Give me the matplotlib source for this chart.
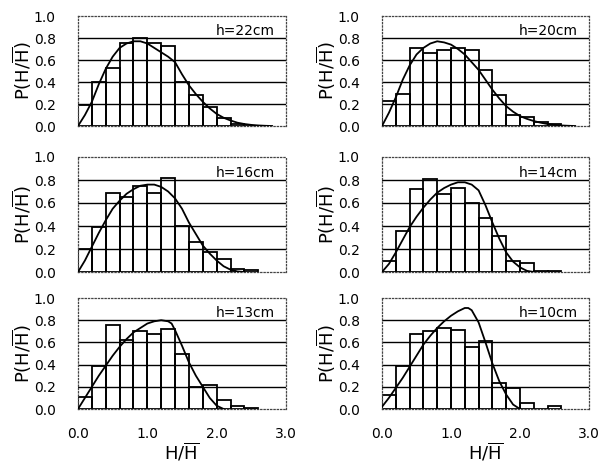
import matplotlib
matplotlib.use("Agg")
import matplotlib.pyplot as plt

# histogram bins (left edges, width 0.2)
bin_left = [0.0, 0.2, 0.4, 0.6, 0.8, 1.0, 1.2, 1.4, 1.6, 1.8, 2.0, 2.2, 2.4]
bin_width = 0.2

labels = ["h=22cm", "h=20cm", "h=16cm", "h=14cm", "h=13cm", "h=10cm"]

bars22 = [0.19, 0.40, 0.53, 0.75, 0.80, 0.75, 0.73, 0.40, 0.28, 0.17, 0.07, 0.02, 0.0]
bars20 = [0.23, 0.29, 0.71, 0.66, 0.69, 0.71, 0.69, 0.51, 0.28, 0.10, 0.08, 0.04, 0.015]
bars16 = [0.20, 0.39, 0.69, 0.65, 0.75, 0.69, 0.82, 0.40, 0.26, 0.17, 0.11, 0.03, 0.015]
bars14 = [0.10, 0.36, 0.72, 0.81, 0.68, 0.73, 0.60, 0.47, 0.31, 0.10, 0.08, 0.01, 0.01]
bars13 = [0.11, 0.39, 0.76, 0.62, 0.70, 0.68, 0.72, 0.50, 0.20, 0.22, 0.085, 0.025, 0.01]
bars10 = [0.13, 0.39, 0.68, 0.70, 0.73, 0.71, 0.56, 0.61, 0.23, 0.19, 0.05, 0.0, 0.03]

# fitted curves
curve22_x = [0.0, 0.1, 0.2, 0.3, 0.4, 0.5, 0.6, 0.7, 0.8, 0.9, 1.0, 1.1, 1.2, 1.3, 1.4,
             1.5, 1.6, 1.7, 1.8, 1.9, 2.0, 2.1, 2.2, 2.3, 2.4, 2.5, 2.6, 2.7, 2.8]
curve22_y = [0.0, 0.10, 0.22, 0.38, 0.52, 0.63, 0.71, 0.75, 0.77, 0.77, 0.75, 0.71, 0.67, 0.63, 0.58,
             0.47, 0.37, 0.29, 0.22, 0.16, 0.11, 0.075, 0.05, 0.03, 0.018, 0.01, 0.005, 0.002, 0.0]

curve20_x = [0.0, 0.1, 0.2, 0.3, 0.4, 0.5, 0.6, 0.7, 0.8, 0.9, 1.0, 1.1, 1.2, 1.3, 1.4,
             1.5, 1.6, 1.7, 1.8, 1.9, 2.0, 2.1, 2.2, 2.3, 2.4, 2.5, 2.6, 2.7, 2.8]
curve20_y = [0.0, 0.12, 0.26, 0.42, 0.55, 0.65, 0.71, 0.75, 0.77, 0.76, 0.74, 0.70, 0.65, 0.58, 0.51,
             0.42, 0.33, 0.25, 0.18, 0.13, 0.09, 0.065, 0.045, 0.03, 0.018, 0.01, 0.005, 0.002, 0.0]

curve16_x = [0.0, 0.1, 0.2, 0.3, 0.4, 0.5, 0.6, 0.7, 0.8, 0.9, 1.0, 1.1, 1.2, 1.3, 1.4,
             1.5, 1.6, 1.7, 1.8, 1.9, 2.0, 2.1, 2.2, 2.3, 2.4]
curve16_y = [0.0, 0.10, 0.22, 0.34, 0.45, 0.55, 0.62, 0.68, 0.72, 0.75, 0.76, 0.76, 0.74, 0.70, 0.64,
             0.55, 0.43, 0.33, 0.23, 0.16, 0.10, 0.05, 0.02, 0.005, 0.0]

curve14_x = [0.0, 0.1, 0.2, 0.3, 0.4, 0.5, 0.6, 0.7, 0.8, 0.9, 1.0, 1.1, 1.2, 1.3, 1.4,
             1.5, 1.6, 1.7, 1.8, 1.9, 2.0, 2.1, 2.2]
curve14_y = [0.0, 0.07, 0.17, 0.28, 0.39, 0.48, 0.56, 0.63, 0.69, 0.73, 0.76, 0.78, 0.78, 0.76, 0.71,
             0.58, 0.43, 0.29, 0.17, 0.09, 0.04, 0.01, 0.0]

curve13_x = [0.0, 0.1, 0.2, 0.3, 0.4, 0.5, 0.6, 0.7, 0.8, 0.9, 1.0, 1.1, 1.2, 1.3, 1.35,
             1.4, 1.5, 1.6, 1.7, 1.8, 1.9, 2.0, 2.1]
curve13_y = [0.0, 0.10, 0.20, 0.30, 0.39, 0.48, 0.56, 0.63, 0.69, 0.73, 0.77, 0.79, 0.80, 0.79, 0.77,
             0.71, 0.57, 0.42, 0.30, 0.20, 0.10, 0.03, 0.0]

curve10_x = [0.0, 0.1, 0.2, 0.3, 0.4, 0.5, 0.6, 0.7, 0.8, 0.9, 1.0, 1.1, 1.2, 1.25, 1.3,
             1.4, 1.5, 1.6, 1.7, 1.8, 1.9, 2.0]
curve10_y = [0.02, 0.10, 0.19, 0.28, 0.38, 0.48, 0.58, 0.66, 0.73, 0.79, 0.84, 0.88, 0.91, 0.91, 0.89,
             0.78, 0.60, 0.41, 0.25, 0.13, 0.04, 0.0]

y_ticks = [0.0, 0.2, 0.4, 0.6, 0.8, 1.0]
x_ticks = [0.0, 1.0, 2.0, 3.0]

plt.rcParams["font.family"] = ["DejaVu Sans"]
plt.rcParams["mathtext.fontset"] = "dejavusans"

W, H = 604, 469
fig = plt.figure(figsize=(W / 100, H / 100), dpi=100)

col_px = [(78, 286), (382, 589)]
row_px = [(16, 126), (157, 272), (298, 409)]

panels = [
    (bars22, curve22_x, curve22_y),
    (bars20, curve20_x, curve20_y),
    (bars16, curve16_x, curve16_y),
    (bars14, curve14_x, curve14_y),
    (bars13, curve13_x, curve13_y),
    (bars10, curve10_x, curve10_y),
]

for i, (bars, cx, cy) in enumerate(panels):
    r, c = divmod(i, 2)
    x0, x1 = col_px[c]
    y0, y1 = row_px[r]
    ax = fig.add_axes([x0 / W, 1 - y1 / H, (x1 - x0) / W, (y1 - y0) / H])

    ax.set_xlim(0, 3.0)
    ax.set_ylim(0, 1.0)

    for yv in y_ticks[1:-1]:
        ax.axhline(yv, color="black", lw=1.0, zorder=1)

    ax.bar(bin_left, bars, width=bin_width, align="edge", fill=False,
           edgecolor="black", linewidth=1.3, zorder=2)
    ax.plot(cx, cy, color="black", lw=1.3, zorder=3)

    ax.text(2.84, 0.80, labels[i], ha="right", va="bottom", fontsize=10)

    for sp in ax.spines.values():
        sp.set_linestyle(":")
        sp.set_linewidth(0.9)
        sp.set_color("#444444")

    ax.set_yticks(y_ticks)
    ax.set_yticklabels([f"{v:.1f}" for v in y_ticks], fontsize=10)
    ax.set_xticks(x_ticks)
    ax.tick_params(axis="both", length=0)
    ax.tick_params(axis="y", pad=16)
    ax.tick_params(axis="x", pad=13)
    ax.set_ylabel(r"P(H/$\overline{\mathrm{H}}$)", fontsize=13, labelpad=0)
    if r == 2:
        ax.set_xticklabels([f"{v:.1f}" for v in x_ticks], fontsize=10)
        ax.set_xlabel(r"H/$\overline{\mathrm{H}}$", fontsize=13, labelpad=0)
    else:
        ax.set_xticklabels([])

fig.savefig("out.png", dpi=100)
